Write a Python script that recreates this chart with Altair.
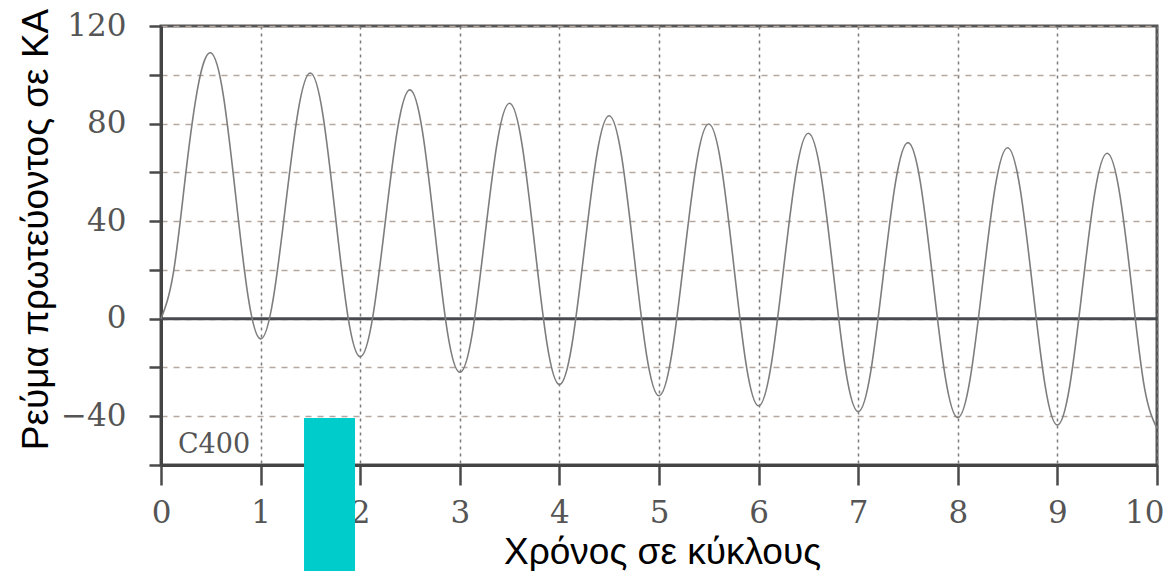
import altair as alt
import pandas as pd

# time in cycles (sampled every 1/8 cycle)
time_cycles = [
    0.0, 0.125, 0.25, 0.375, 0.5, 0.625, 0.75, 0.875,
    1.0, 1.125, 1.25, 1.375, 1.5, 1.625, 1.75, 1.875,
    2.0, 2.125, 2.25, 2.375, 2.5, 2.625, 2.75, 2.875,
    3.0, 3.125, 3.25, 3.375, 3.5, 3.625, 3.75, 3.875,
    4.0, 4.125, 4.25, 4.375, 4.5, 4.625, 4.75, 4.875,
    5.0, 5.125, 5.25, 5.375, 5.5, 5.625, 5.75, 5.875,
    6.0, 6.125, 6.25, 6.375, 6.5, 6.625, 6.75, 6.875,
    7.0, 7.125, 7.25, 7.375, 7.5, 7.625, 7.75, 7.875,
    8.0, 8.125, 8.25, 8.375, 8.5, 8.625, 8.75, 8.875,
    9.0, 9.125, 9.25, 9.375, 9.5, 9.625, 9.75, 9.875,
    10.0,
]

# primary current in kA
current_ka = [
    0.0, 19.0, 60.0, 96.0, 109.0, 91.8, 50.4, 8.9,
    -8.3, 7.7, 46.2, 84.7, 100.7, 83.7, 42.6, 1.4,
    -15.6, 0.4, 39.1, 77.8, 93.8, 76.8, 35.8, -5.3,
    -22.0, -6.1, 33.0, 72.1, 88.3, 71.4, 30.7, -10.1,
    -27.0, -10.9, 28.1, 67.1, 83.2, 66.4, 25.8, -14.8,
    -31.6, -15.3, 24.1, 63.5, 79.8, 62.9, 22.1, -18.8,
    -35.7, -19.3, 20.2, 59.6, 76.0, 59.3, 19.0, -21.4,
    -38.1, -21.9, 17.1, 56.0, 72.2, 55.7, 15.8, -24.1,
    -40.6, -24.4, 14.8, 53.9, 70.1, 53.5, 13.3, -27.0,
    -43.6, -27.3, 12.1, 51.5, 67.8, 51.3, 11.4, -28.5,
    -45.0,
]

x_ticks = [0, 1, 2, 3, 4, 5, 6, 7, 8, 9, 10]
y_ticks = [-60, -40, -20, 0, 20, 40, 60, 80, 100, 120]

label_text = ["C400"]
label_x = [0.17]
label_y = [-55]

overlay_x = [1.436]
overlay_x2 = [1.948]
overlay_y = [-40.7]
overlay_y2 = [-110]

curve = pd.DataFrame({"t": time_cycles, "i": current_ka})
zero = pd.DataFrame({"y": [0]})
lab = pd.DataFrame({"text": label_text, "x": label_x, "y": label_y})
ov = pd.DataFrame({"x": overlay_x, "x2": overlay_x2, "y": overlay_y, "y2": overlay_y2})

xscale = alt.Scale(domain=[0, 10], nice=False, zero=False)
yscale = alt.Scale(domain=[-60, 120], nice=False, zero=False)

xaxis = alt.Axis(
    title="Χρόνος σε κύκλους",
    values=x_ticks,
    format="d",
    grid=True,
    gridColor="#7a7a7a",
    gridDash=[3, 4],
    gridWidth=1.5,
    domainColor="#444444",
    domainWidth=3,
    tickColor="#4a4a4a",
    tickWidth=2.5,
    tickSize=20,
    labelFlush=False,
    labelAlign={"condition": {"test": "datum.value == 10", "value": "right"}, "value": "center"},
    labelOffset={"condition": {"test": "datum.value == 10", "value": 7}, "value": 0},
    labelFont="DejaVu Serif",
    labelFontSize=31,
    labelColor="#555555",
    labelPadding=13,
    titleFont="Liberation Sans",
    titleFontSize=37,
    titleFontWeight="normal",
    titleColor="#000000",
    titleBaseline="alphabetic",
    titleAlign="center",
    titleX=501,
    titleY=98,
)

yaxis = alt.Axis(
    title="Ρεύμα πρωτεύοντος σε ΚΑ",
    values=y_ticks,
    labelExpr="datum.value % 40 == 0 ? datum.label : ''",
    grid=True,
    gridColor="#b3a79f",
    gridDash=[6, 6],
    gridWidth=1.3,
    domainColor="#444444",
    domainWidth=3,
    tickColor="#4a4a4a",
    tickWidth=2.5,
    tickSize=12,
    labelFlush=False,
    labelFont="DejaVu Serif",
    labelFontSize=31,
    labelColor="#555555",
    labelPadding=23,
    titleFont="Liberation Sans",
    titleFontSize=37,
    titleFontWeight="normal",
    titleColor="#000000",
    titleBaseline="alphabetic",
    titleAlign="center",
    titleAngle=270,
    titleX=-114,
    titleY=203,
)

line = alt.Chart(curve).mark_line(
    color="#7d7d7d", strokeWidth=1.6, interpolate="natural"
).encode(
    x=alt.X("t:Q", scale=xscale, axis=xaxis),
    y=alt.Y("i:Q", scale=yscale, axis=yaxis),
)

zero_rule = alt.Chart(zero).mark_rule(color="#474b50", strokeWidth=3).encode(
    y=alt.Y("y:Q", scale=yscale)
)

text = alt.Chart(lab).mark_text(
    font="DejaVu Serif", fontSize=27, color="#555555",
    align="left", baseline="alphabetic"
).encode(
    x=alt.X("x:Q", scale=xscale),
    y=alt.Y("y:Q", scale=yscale),
    text="text:N",
)

overlay = alt.Chart(ov).mark_rect(color="#00cccc", clip=False).encode(
    x=alt.X("x:Q", scale=xscale),
    x2="x2:Q",
    y=alt.Y("y:Q", scale=yscale),
    y2="y2:Q",
)

chart = alt.layer(zero_rule, line, text, overlay).properties(
    width=996,
    height=439,
    autosize=alt.AutoSizeParams(type="none"),
    padding={"left": 153, "top": 18, "right": 8, "bottom": 106},
    background="white",
).configure_view(
    stroke="#555555", strokeWidth=3
)

chart.save("out.html", embed_options={"renderer": "svg", "actions": False})
